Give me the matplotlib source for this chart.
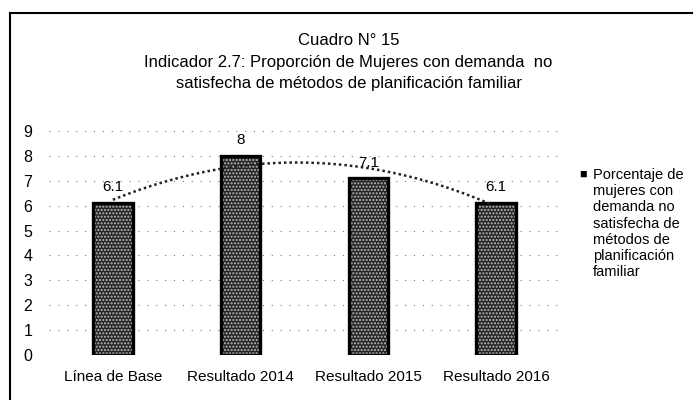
import numpy as np
import matplotlib.pyplot as plt
from matplotlib.lines import Line2D

categorias = ["Línea de Base", "Resultado 2014", "Resultado 2015", "Resultado 2016"]
valores = [6.1, 8, 7.1, 6.1]
etiquetas = ["6.1", "8", "7.1", "6.1"]
serie = "Porcentaje de\nmujeres con\ndemanda no\nsatisfecha de\nmétodos de\nplanificación\nfamiliar"
titulo = "Cuadro N° 15\nIndicador 2.7: Proporción de Mujeres con demanda  no\nsatisfecha de métodos de planificación familiar"

plt.rcParams['font.family'] = ['Liberation Sans', 'DejaVu Sans']

fig = plt.figure(figsize=(6.97, 4.0), dpi=100)
ax = fig.add_axes([49 / 697, 45 / 400, 511 / 697, 224 / 400])

x = np.arange(len(categorias))

# grid punteado
for y in range(0, 10):
    ax.axhline(y, color='#777777', lw=0.8, ls=(0, (1, 7)), zorder=0)

# barras con textura
ax.bar(x, valores, width=0.31, color='#262626', edgecolor='#bdbdbd',
       hatch='.....', linewidth=0, zorder=2)
ax.bar(x, valores, width=0.31, fill=False, edgecolor='black', linewidth=2.4, zorder=3)

for xi, v, t in zip(x, valores, etiquetas):
    ax.text(xi, v + 0.35, t, ha='center', va='bottom', fontsize=11)

# linea de tendencia polinomica
coef = np.polyfit(x, valores, 2)
xs = np.linspace(0.0, 2.95, 100)
ax.plot(xs, np.polyval(coef, xs), color='#222222', lw=1.8, ls=(0, (1, 1.2)), zorder=4)

ax.set_xlim(-0.5, 3.5)
ax.set_ylim(0, 9)
ax.set_yticks(range(0, 10))
ax.set_xticks(x)
ax.set_xticklabels(categorias, fontsize=11)
ax.tick_params(axis='y', length=0, pad=12, labelsize=11.5)
ax.tick_params(axis='x', length=0, pad=11)
for s in ax.spines.values():
    s.set_visible(False)

fig.text(0.5, 1 - 33 / 400, titulo, ha='center', va='top', fontsize=12,
         linespacing=1.55)

# leyenda
fig.text(583 / 697, 1 - 175 / 400, "■", ha='center', va='center', fontsize=9)
fig.text(593 / 697, 1 - 168 / 400, serie, ha='left', va='top', fontsize=10.5,
         linespacing=1.2)

# marco
fig.add_artist(Line2D([10 / 697, 10 / 697], [0, 1 - 13 / 400], color='black', lw=1.5))
fig.add_artist(Line2D([10 / 697, 692 / 697], [1 - 13 / 400, 1 - 13 / 400], color='black', lw=1.5))

fig.savefig('out.png', dpi=100)
